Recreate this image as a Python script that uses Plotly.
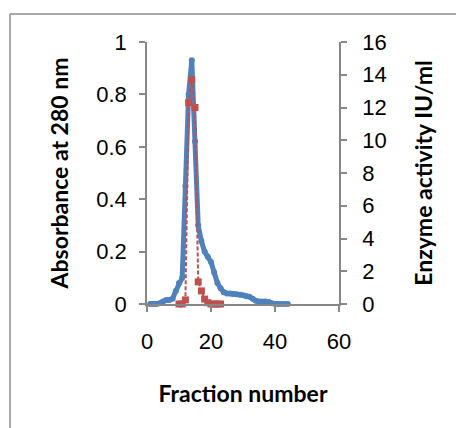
import plotly.graph_objects as go

# Data
fraction_abs = list(range(1, 45))
absorbance = [0, 0, 0, 0.003, 0.01, 0.015, 0.015, 0.02, 0.05, 0.08,
              0.1, 0.45, 0.8, 0.93, 0.62, 0.3, 0.24, 0.2, 0.18, 0.16,
              0.12, 0.08, 0.06, 0.045, 0.04, 0.04, 0.038, 0.037, 0.035, 0.033,
              0.03, 0.028, 0.02, 0.012, 0.01, 0.01, 0.01, 0.008, 0.003, 0,
              0, 0, 0, 0]
fraction_enz = list(range(10, 24))
enzyme = [0, 0, 0.25, 12.3, 13.7, 12.0, 1.35, 0.8, 0.3, 0.08, 0, 0, 0, 0]

x_ticks = [0, 20, 40, 60]
y1_ticks = [0, 0.2, 0.4, 0.6, 0.8, 1]
y1_labels = ["0", "0.2", "0.4", "0.6", "0.8", "1"]
y2_ticks = [0, 2, 4, 6, 8, 10, 12, 14, 16]

BLUE = "#4F81BD"
RED = "#C0504D"
AX = "#878787"
TICKFONT = dict(family="Liberation Sans, Arial, sans-serif", size=22, color="#000")
TITLEFONT = dict(family="Lato, 'Open Sans', sans-serif", size=23, color="#000", weight="bold")

fig = go.Figure()
fig.add_trace(go.Scatter(
    x=fraction_abs, y=absorbance, mode="lines+markers",
    line=dict(color=BLUE, width=5),
    marker=dict(color=BLUE, size=6, symbol="circle"),
    cliponaxis=False, showlegend=False, yaxis="y"))
fig.add_trace(go.Scatter(
    x=fraction_enz, y=enzyme, mode="lines+markers",
    line=dict(color=RED, width=2, dash="4px,2px"),
    marker=dict(color=RED, size=7, symbol="square"),
    cliponaxis=False, showlegend=False, yaxis="y2"))

# page body has an 8px margin; size the figure to fit the 464x428 window
OFF = 8
W, H = 464 - OFF, 428 - OFF
L, R, T, B = 147 - OFF, 339 - OFF, 42 - OFF, 304 - OFF
fig.update_layout(
    width=W, height=H,
    margin=dict(l=L, r=W - R, t=T, b=H - B, pad=0),
    paper_bgcolor="white", plot_bgcolor="white",
    xaxis=dict(range=[0, 60], tickvals=x_ticks, showgrid=False, zeroline=False,
               showline=True, linecolor=AX, linewidth=1.5, ticks="outside",
               ticklen=6, tickcolor=AX, tickwidth=1.5, tickfont=TICKFONT,
               ticklabelstandoff=11,
               title=dict(text="Fraction number", font=TITLEFONT, standoff=33)),
    yaxis=dict(range=[0, 1], tickvals=y1_ticks, ticktext=y1_labels, showgrid=False,
               zeroline=False, showline=True, linecolor=AX, linewidth=1.5,
               ticks="outside", ticklen=6, tickcolor=AX, tickwidth=1.5,
               tickfont=TICKFONT, ticklabelstandoff=8,
               title=dict(text="Absorbance at 280 nm", font=TITLEFONT, standoff=21)),
    yaxis2=dict(range=[0, 16], tickvals=y2_ticks, overlaying="y", side="right",
                showgrid=False, zeroline=False, showline=True, linecolor=AX,
                linewidth=1.5, ticks="outside", ticklen=6, tickcolor=AX,
                tickwidth=1.5, tickfont=TICKFONT, ticklabelstandoff=11,
                title=dict(text="Enzyme activity IU/ml", font=TITLEFONT, standoff=30)),
)

# chart border: only the top and left edges fall inside the canvas
pw, ph = R - L, B - T
bx0 = (10 - OFF - L) / pw
bx1 = (W + 30 - L) / pw
by0 = (B - (H + 30)) / ph
by1 = (B - (14 - OFF)) / ph
border = dict(color="#8C8C8C", width=1.5)
fig.add_shape(type="line", xref="paper", yref="paper",
              x0=bx0, x1=bx1, y0=by1, y1=by1, line=border, layer="below")
fig.add_shape(type="line", xref="paper", yref="paper",
              x0=bx0, x1=bx0, y0=by0, y1=by1, line=border, layer="below")

fig.write_html(
    "out.html",
    post_script="document.documentElement.style.overflow='hidden';"
                "document.body.style.overflow='hidden';",
)
